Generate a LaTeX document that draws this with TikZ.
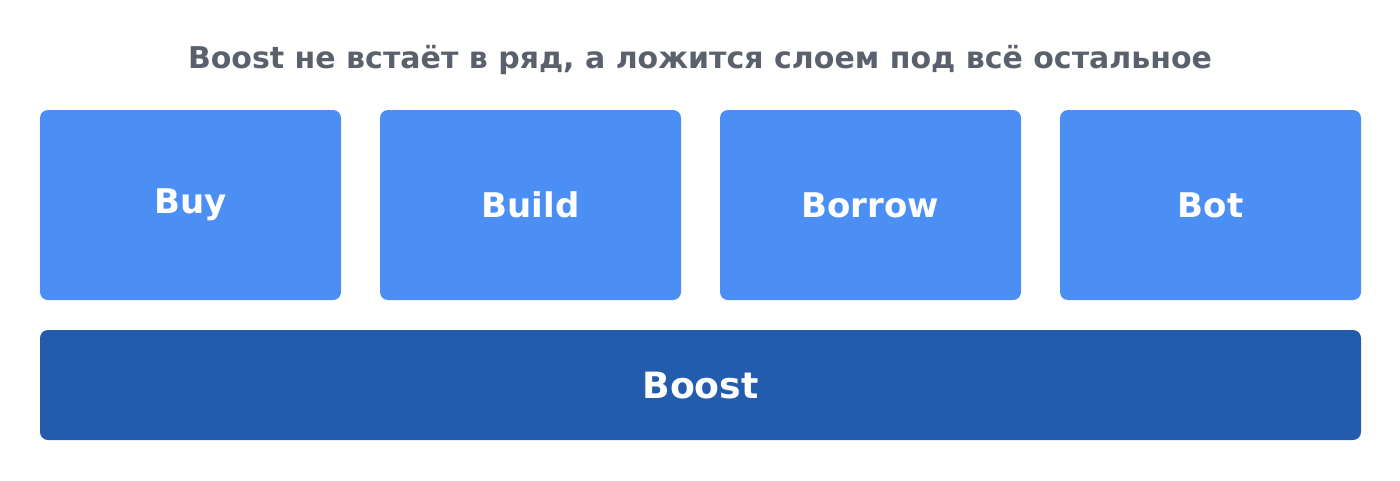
\documentclass[tikz,border=0pt]{standalone}
\usepackage{fontspec}
\setmainfont{DejaVu Sans}
\definecolor{lightblue}{HTML}{4B8FF5}
\definecolor{darkblue}{HTML}{235BAD}
\definecolor{titlegray}{HTML}{5B616C}
\begin{document}
\begin{tikzpicture}[x=1pt,y=-1pt,
  card/.style={fill=lightblue, draw=none, rounded corners=8pt},
  basecard/.style={fill=darkblue, draw=none, rounded corners=8pt},
  lbl/.style={text=white, font=\fontsize{34}{40}\selectfont\bfseries, inner sep=0pt},
  biglbl/.style={text=white, font=\fontsize{36.2}{42}\selectfont\bfseries, inner sep=0pt},
  ttl/.style={text=titlegray, font=\fontsize{30}{36}\selectfont\bfseries, inner sep=0pt}]
\useasboundingbox (0,0) rectangle (1400,480);
\node[ttl] (title) at (700,60) {Boost не встаёт в ряд, а ложится слоем под всё остальное};
\path[card] (40,110) rectangle (341,300) node[midway, lbl] (buy) {Buy};
\path[card] (380,110) rectangle (681,300) node[midway, lbl] (build) {Build};
\path[card] (720,110) rectangle (1021,300) node[midway, lbl] (borrow) {Borrow};
\path[card] (1060,110) rectangle (1361,300) node[midway, lbl] (bot) {Bot};
\path[basecard] (40,330) rectangle (1361,440) node[midway, yshift=-1pt, biglbl] (boost) {Boost};
\end{tikzpicture}
\end{document}
